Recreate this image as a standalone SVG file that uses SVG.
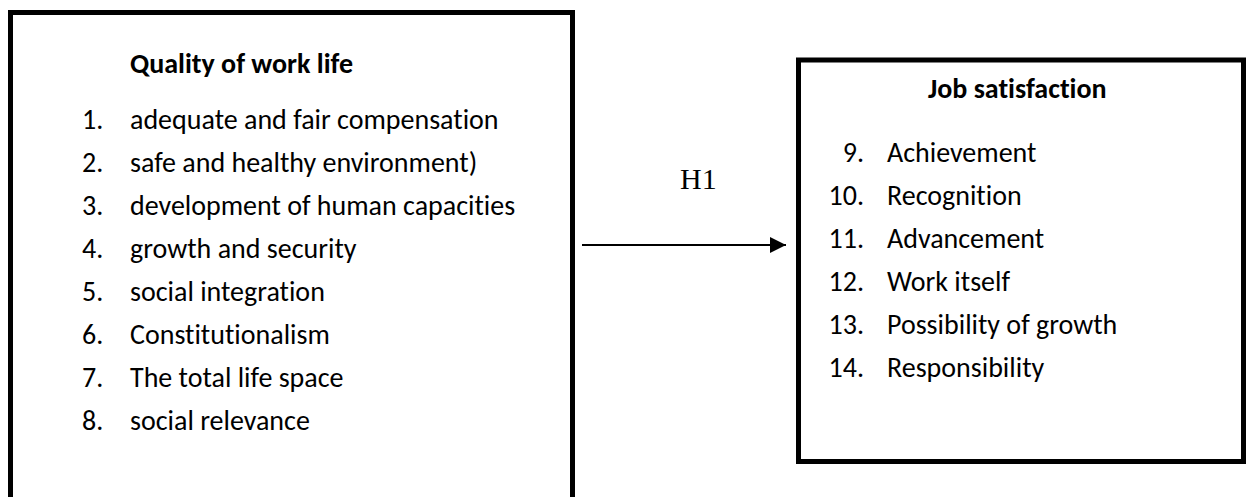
<svg xmlns="http://www.w3.org/2000/svg" width="1246" height="497" viewBox="0 0 1246 497">
  <style>
    .box { fill: #ffffff; stroke: #000000; stroke-width: 5; }
    .title { font-family: Carlito, Lato, "Open Sans", sans-serif; font-weight: bold; font-size: 28px; fill: #000; font-variant-ligatures: none; }
    .item { font-family: Carlito, Lato, "Open Sans", sans-serif; font-size: 28px; fill: #000; font-variant-ligatures: none; }
    .num-r { text-anchor: end; }
    .lbl { font-family: "Liberation Serif", serif; font-size: 30px; fill: #000; }
    .edge { stroke: #000; stroke-width: 2; fill: none; }
  </style>
  <defs>
    <marker id="arrow" viewBox="0 0 16 16" refX="16" refY="8" markerWidth="16" markerHeight="16" markerUnits="userSpaceOnUse" orient="auto">
      <path d="M0,0 L16,8 L0,16 Z" fill="#000"/>
    </marker>
  </defs>
  <rect width="1246" height="497" fill="#ffffff"/>

  <!-- Quality of work life -->
  <g id="qwl">
    <rect class="box" x="10.5" y="12.5" width="562" height="500"/>
    <text class="title" x="130" y="73">Quality of work life</text>
    <g class="item">
      <text x="82" y="129">1.</text><text x="130" y="129">adequate and fair compensation</text>
      <text x="82" y="172">2.</text><text x="130" y="172">safe and healthy environment)</text>
      <text x="82" y="215">3.</text><text x="130" y="215">development of human capacities</text>
      <text x="82" y="258">4.</text><text x="130" y="258">growth and security</text>
      <text x="82" y="301">5.</text><text x="130" y="301">social integration</text>
      <text x="82" y="344">6.</text><text x="130" y="344">Constitutionalism</text>
      <text x="82" y="387">7.</text><text x="130" y="387">The total life space</text>
      <text x="82" y="430">8.</text><text x="130" y="430">social relevance</text>
    </g>
  </g>

  <!-- Job satisfaction -->
  <g id="js">
    <rect class="box" x="798.5" y="60" width="445" height="401.5"/>
    <text class="title" x="928" y="98">Job satisfaction</text>
    <g class="item">
      <text class="num-r" x="864" y="162">9.</text><text x="887" y="162">Achievement</text>
      <text class="num-r" x="864" y="205">10.</text><text x="887" y="205">Recognition</text>
      <text class="num-r" x="864" y="248">11.</text><text x="887" y="248">Advancement</text>
      <text class="num-r" x="864" y="291">12.</text><text x="887" y="291">Work itself</text>
      <text class="num-r" x="864" y="334">13.</text><text x="887" y="334">Possibility of growth</text>
      <text class="num-r" x="864" y="377">14.</text><text x="887" y="377">Responsibility</text>
    </g>
  </g>

  <!-- connectors -->
  <g id="connectors">
    <line class="edge" x1="582" y1="245" x2="786" y2="245" marker-end="url(#arrow)"/>
    <text class="lbl" x="680" y="189">H1</text>
  </g>
</svg>
